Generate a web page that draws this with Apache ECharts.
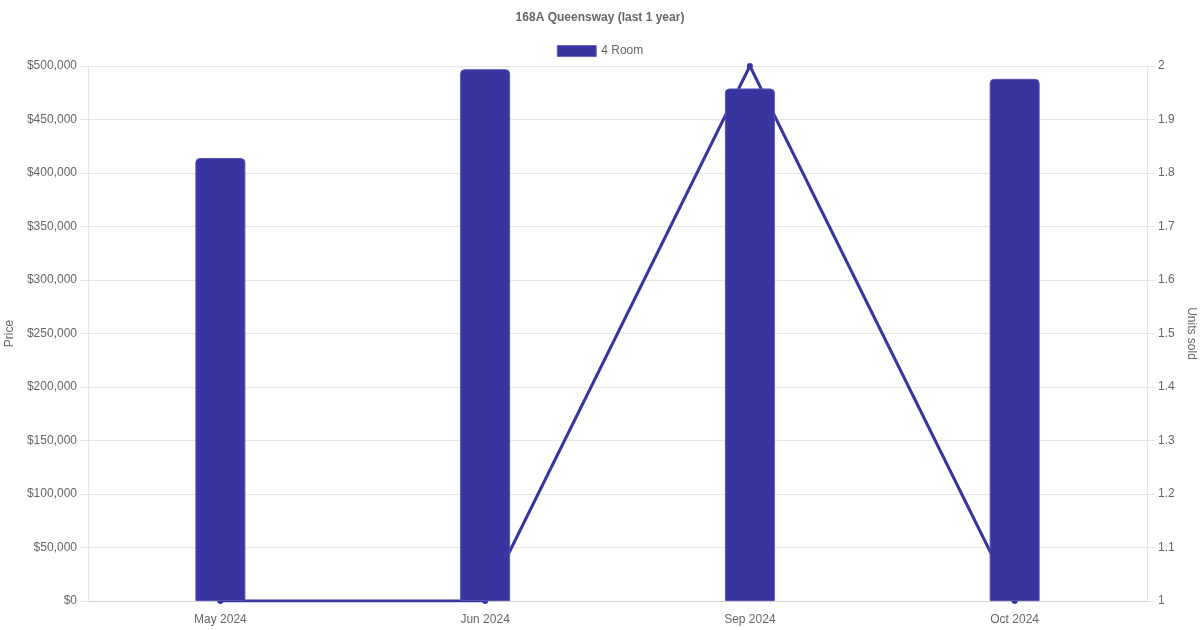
<!DOCTYPE html>
<html><head><meta charset="utf-8">
<script src="https://cdn.jsdelivr.net/npm/echarts@6/dist/echarts.min.js"></script>
<style>html,body{margin:0;padding:0;background:#fff}#c{width:1200px;height:630px}</style>
</head><body><div id="c"></div>
<script>
const categories = ['May 2024', 'Jun 2024', 'Sep 2024', 'Oct 2024'];
const prices = [414000, 497000, 479000, 488000];
const unitsSold = [1, 1, 2, 1];
const seriesName = '4 Room';
const titleText = '168A Queensway (last 1 year)';

const font = 'Liberation Sans, Arial, Helvetica, sans-serif';
const color = '#3935a0';
const chart = echarts.init(document.getElementById('c'));
chart.setOption({
  animation: false,
  textStyle: {fontFamily: font},
  title: {text: titleText, left: 'center', top: 7,
    textStyle: {fontSize: 12, fontWeight: 'bold', color: '#666', fontFamily: font}},
  legend: {data: [seriesName], top: 40, left: 'center', itemWidth: 39, itemHeight: 11, itemGap: 6,
    textStyle: {fontSize: 12, color: '#666', fontFamily: font},
    itemStyle: {borderWidth: 1, borderColor: '#6a66c0'},
    icon: 'rect'},
  grid: {left: 88, right: 53, top: 66, bottom: 29, containLabel: false, outerBoundsMode: 'none'},
  xAxis: {type: 'category', data: categories,
    axisLine: {show: true, lineStyle: {color: '#d0d0d0'}},
    axisTick: {show: false},
    axisLabel: {color: '#666', fontSize: 12, margin: 13, fontFamily: font},
    splitLine: {show: false}},
  yAxis: [
    {type: 'value', min: 0, max: 500000, interval: 50000, name: 'Price', nameLocation: 'middle', nameGap: 67,
      nameTextStyle: {color: '#666', fontSize: 12, fontFamily: font},
      axisLine: {show: true, lineStyle: {color: '#e5e5e5'}},
      axisTick: {show: true, length: 8, lineStyle: {color: '#e5e5e5'}},
      axisLabel: {color: '#666', fontSize: 12, margin: 11, fontFamily: font,
        formatter: v => '$' + v.toLocaleString('en-US')},
      splitLine: {show: true, lineStyle: {color: '#e5e5e5'}}},
    {type: 'value', min: 1, max: 2, interval: 0.1, name: 'Units sold', nameLocation: 'middle', nameGap: 30, nameRotate: -90,
      nameTextStyle: {color: '#666', fontSize: 12, fontFamily: font},
      position: 'right',
      axisLine: {show: true, lineStyle: {color: '#e5e5e5'}},
      axisTick: {show: true, length: 8, lineStyle: {color: '#e5e5e5'}},
      axisLabel: {color: '#666', fontSize: 12, margin: 11, fontFamily: font,
        formatter: v => String(Math.round(v * 10) / 10)},
      splitLine: {show: false}}
  ],
  series: [
    {name: 'units', type: 'line', yAxisIndex: 1, data: unitsSold, z: 1,
      symbol: 'circle', symbolSize: 6, showSymbol: true,
      lineStyle: {color: color, width: 3}, itemStyle: {color: color}},
    {name: seriesName, type: 'bar', yAxisIndex: 0, data: prices, barWidth: 50, z: 2,
      itemStyle: {color: color, borderColor: '#5652b5', borderWidth: 1, borderRadius: [4, 4, 0, 0]}}
  ]
});
</script></body></html>
